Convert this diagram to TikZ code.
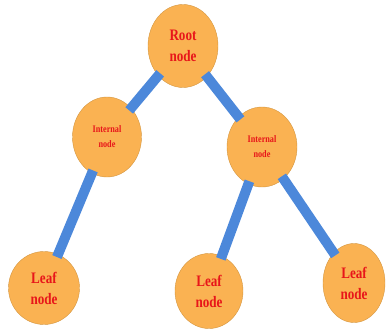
\documentclass[tikz,border=0pt]{standalone}
\usepackage{fontspec}
\newfontfamily\treefont[FakeStretch=0.82]{Liberation Serif}
\usetikzlibrary{positioning, shapes.geometric}
\definecolor{nodeorange}{RGB}{250,178,82}
\definecolor{nodeline}{RGB}{212,150,64}
\definecolor{barblue}{RGB}{76,136,218}
\definecolor{labelred}{RGB}{232,22,26}
\tikzstyle{n} = [ellipse, draw=nodeline, fill=nodeorange, inner sep=0pt, align=center, text=labelred, font=\treefont\bfseries\fontsize{16}{21}\selectfont]
\tikzstyle{small} = [font=\treefont\bfseries\fontsize{10}{15}\selectfont]
\tikzstyle{bar} = [draw=barblue, line width=10pt, shorten <=-3pt, shorten >=-3pt]

\begin{document}
\begin{tikzpicture}[x=1pt, y=-1pt]
    \useasboundingbox (0,0) rectangle (386,330);
    % nodes
    \node[n, minimum width=70pt, minimum height=83pt] (root) at (183,46) {Root\\node};
    \node[n, small, minimum width=69pt, minimum height=80pt] (intl) at (107,137) {Internal\\node};
    \node[n, small, minimum width=70pt, minimum height=80pt] (intr) at (262,147) {Internal\\node};
    \node[n, minimum width=71pt, minimum height=73pt] (leafa) at (44,288) {Leaf\\node};
    \node[n, minimum width=68pt, minimum height=75pt] (leafb) at (209,291) {Leaf\\node};
    \node[n, minimum width=62pt, minimum height=79pt] (leafc) at (354,283) {Leaf\\node};
    % edges
    \draw[bar] (root) -- (intl);
    \draw[bar] (root) -- (intr);
    \draw[bar] (intl) -- (leafa);
    \draw[bar] (intr) -- (leafb);
    \draw[bar] (intr) -- (leafc);
\end{tikzpicture}
\end{document}
